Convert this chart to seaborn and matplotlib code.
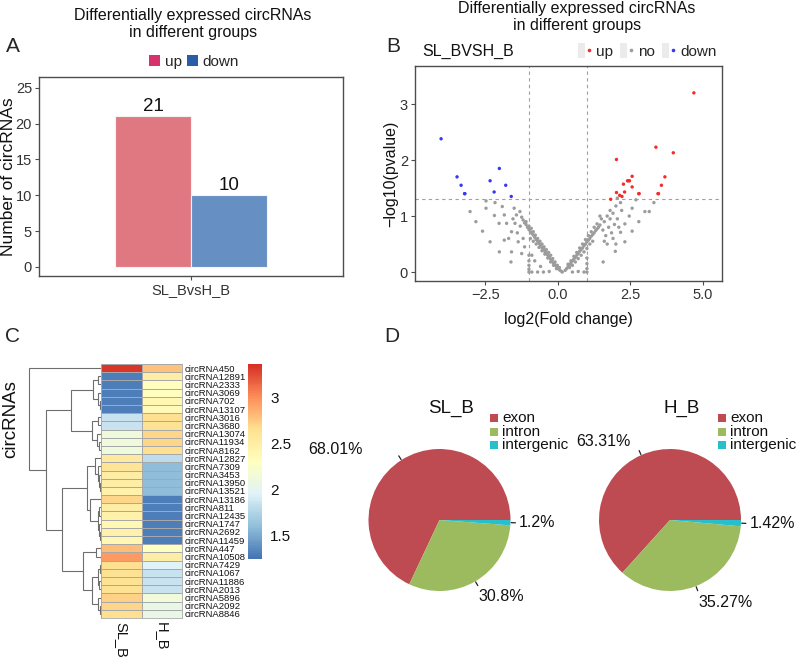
import numpy as np
import pandas as pd
import matplotlib
matplotlib.use("Agg")
import matplotlib.pyplot as plt
import seaborn as sns
from matplotlib.patches import Patch, Rectangle
from matplotlib.lines import Line2D
from matplotlib.legend_handler import HandlerTuple
from matplotlib.colors import LinearSegmentedColormap

# ---------------- data ----------------
# Panel A
bar_group = ["SL_BvsH_B", "SL_BvsH_B"]
bar_types = ["up", "down"]
bar_counts = [21, 10]

# Panel B (volcano)
up_fc = [4.69, 3.38, 3.98, 2.02, 2.56, 3.69, 2.43, 2.47, 2.26, 3.57, 2.56,
         2.02, 2.30, 2.79, 3.45, 2.13, 2.21, 1.82, 2.80, 3.47, 2.40]
up_logp = [3.20, 2.23, 2.13, 2.01, 1.71, 1.70, 1.63, 1.63, 1.57, 1.55, 1.52,
           1.42, 1.43, 1.40, 1.40, 1.37, 1.35, 1.30, 1.40, 1.40, 1.63]
down_fc = [-4.03, -2.02, -3.48, -2.34, -3.34, -1.80, -2.20, -3.21, -1.61, -3.22]
down_logp = [2.38, 1.85, 1.70, 1.63, 1.55, 1.55, 1.43, 1.40, 1.35, 1.40]
no_fc = [
    -1.25, -1.20, -1.15, -1.10, -1.05, -1.00, -0.95, -0.90, -0.85, -0.80, -0.75, -0.70,
    -0.65, -0.60, -0.55, -0.50, -0.45, -0.40, -0.35, -0.30, -0.25, -0.20, -0.15, -0.10,
    -0.05, 0.00, 0.05, 0.10, 0.15,
    -1.10, -1.00, -0.92, -0.85, -0.78, -0.70, -0.62, -0.55, -0.48, -0.40, -0.32, -0.25,
    -0.18, -0.10, -0.02, 0.05,
    -0.95, -0.85, -0.75, -0.65, -0.55, -0.45, -0.35, -0.25, -0.15, -0.05,
    0.25, 0.30, 0.35, 0.40, 0.45, 0.50, 0.55, 0.60, 0.65, 0.70, 0.75, 0.80, 0.85, 0.90,
    0.95, 1.00, 1.05, 1.10, 1.15, 1.20, 1.25, 1.30, 1.35, 1.40, 1.45,
    0.35, 0.45, 0.55, 0.65, 0.75, 0.85, 0.95, 1.05, 1.15, 1.25, 1.35,
    0.40, 0.50, 0.60, 0.70, 0.80, 0.90, 1.00, 1.10, 1.20,
    -0.90, -0.70, -0.50, -0.30, 0.50, 0.70, 0.90, -1.00, 1.00,
    -1.00, -1.00, -1.00, -1.00, 1.00, 1.00, 1.00,
    -2.48, -2.48, -3.03, -2.83, -2.60, -2.34, -2.02, -1.62, -2.19, -2.03, -2.17, -1.92,
    -1.85, -1.77, -1.85, -1.60, -1.48, -1.43, -1.51, -1.31, -1.60, -1.37, -1.25, -1.40,
    -1.30, -1.20, -1.15, -0.90, -0.80, -0.60, -1.70, -1.55,
    2.05, 2.16, 2.00, 2.69, 2.56, 3.31, 3.00, 3.15, 2.46, 2.79, 2.31, 2.56, 2.16, 2.31,
    1.98, 1.56, 1.60, 1.70, 1.80, 1.90, 1.75, 1.85, 1.95, 2.05, 1.65, 1.55, 1.90, 2.10,
    2.20, 1.70, 1.50, 1.45, 2.00, 1.80, 1.60]
no_logp = [
    0.98, 0.93, 0.88, 0.85, 0.80, 0.76, 0.72, 0.69, 0.66, 0.62, 0.58, 0.55,
    0.51, 0.48, 0.44, 0.41, 0.37, 0.34, 0.30, 0.27, 0.23, 0.20, 0.16, 0.13,
    0.10, 0.07, 0.04, 0.02, 0.00,
    0.90, 0.82, 0.78, 0.72, 0.66, 0.60, 0.55, 0.50, 0.45, 0.40, 0.35, 0.30,
    0.24, 0.18, 0.12, 0.08,
    0.60, 0.55, 0.50, 0.44, 0.38, 0.32, 0.25, 0.18, 0.12, 0.06,
    0.03, 0.06, 0.10, 0.13, 0.16, 0.20, 0.23, 0.26, 0.30, 0.33, 0.37, 0.40, 0.43, 0.47,
    0.50, 0.54, 0.57, 0.60, 0.64, 0.67, 0.70, 0.74, 0.77, 0.80, 0.84,
    0.14, 0.20, 0.28, 0.35, 0.43, 0.50, 0.58, 0.65, 0.72, 0.80, 0.86,
    0.08, 0.12, 0.18, 0.24, 0.30, 0.36, 0.42, 0.50, 0.55,
    0.00, 0.00, 0.00, 0.01, 0.00, 0.01, 0.00, 0.00, 0.00,
    0.05, 0.12, 0.20, 0.30, 0.06, 0.15, 0.25,
    1.27, 1.14, 1.08, 0.90, 0.73, 0.54, 0.36, 0.18, 1.01, 0.87, 1.24, 1.17,
    1.02, 0.87, 0.57, 0.72, 0.87, 1.02, 1.14, 1.08, 0.36, 0.54, 0.33, 0.70,
    0.82, 0.60, 0.45, 0.30, 0.20, 0.10, 0.60, 0.95,
    1.32, 1.24, 1.18, 1.29, 1.14, 1.24, 1.08, 1.08, 1.00, 0.90, 0.86, 0.73, 0.71, 0.54,
    0.37, 0.18, 0.90, 1.00, 0.95, 1.05, 0.80, 0.70, 0.85, 0.95, 0.65, 0.75, 0.60, 0.80,
    1.10, 0.50, 0.95, 1.00, 0.50, 1.10, 0.55]

# Panel C (heatmap)
heat_rows = ["circRNA450", "circRNA12891", "circRNA2333", "circRNA3069", "circRNA702",
             "circRNA13107", "circRNA3016", "circRNA3680", "circRNA13074", "circRNA11934",
             "circRNA8162", "circRNA12827", "circRNA7309", "circRNA3453", "circRNA13950",
             "circRNA13521", "circRNA13186", "circRNA811", "circRNA12435", "circRNA1747",
             "circRNA2692", "circRNA11459", "circRNA447", "circRNA10508", "circRNA7429",
             "circRNA1067", "circRNA11886", "circRNA2013", "circRNA5896", "circRNA2092",
             "circRNA8846"]
heat_cols = ["SL_B", "H_B"]
heat_sl = [3.32, 1.30, 1.30, 1.30, 1.30, 1.30, 1.85, 1.85, 2.12, 2.12, 2.12,
           2.55, 2.60, 2.50, 2.50, 2.45, 2.70, 2.50, 2.45, 2.40, 2.45, 2.40,
           2.80, 2.95, 2.65, 2.62, 2.62, 2.62, 2.72, 2.70, 2.66]
heat_h = [2.78, 2.50, 2.32, 2.32, 2.40, 2.36, 2.65, 2.62, 2.70, 2.70, 2.66,
          1.80, 1.60, 1.60, 1.60, 1.60, 1.30, 1.30, 1.30, 1.30, 1.30, 1.30,
          2.30, 2.50, 1.95, 1.85, 1.85, 1.85, 2.15, 2.05, 2.05]
# row dendrogram: [left, right, merge height]; leaves are row indices
dendro_tree = [0,
               [[[[1, 2, 2.5], [3, [4, 5, 1.0], 3.0], 7.3],
                 [[6, 7, 3.0], [8, [9, 10, 1.5], 3.5], 8.3], 29],
                [[[11, [12, [13, [14, 15, 0.8], 1.5], 2.5], 6],
                  [16, [[17, 18, 1.5], [19, [20, 21, 1.0], 2.0], 3.0], 11], 14],
                 [[22, 23, 5],
                  [[[24, 25, 1.0], [26, 27, 1.5], 3.0], [28, [29, 30, 1.0], 2.5], 9], 18],
                 38], 54],
               70]

# Panel D (pies)
pie_cats = ["exon", "intron", "intergenic"]
pie_sl = [68.01, 30.8, 1.2]
pie_h = [63.31, 35.27, 1.42]
pie_sl_labels = ["68.01%", "30.8%", "1.2%"]
pie_h_labels = ["63.31%", "35.27%", "1.42%"]

# ---------------- style ----------------
sns.set_style("white")
plt.rcParams["font.family"] = ["Liberation Sans", "DejaVu Sans"]
plt.rcParams["axes.unicode_minus"] = True

W, H = 797, 660
fig = plt.figure(figsize=(W / 100, H / 100), dpi=100)


def pax(x0, y0, x1, y1):
    return fig.add_axes([x0 / W, 1 - y1 / H, (x1 - x0) / W, (y1 - y0) / H])


def ftext(x, y, s, **kw):
    return fig.text(x / W, 1 - y / H, s, **kw)


frame_col = "#4D4D4D"
tick_col = "#333333"


def style_box(ax):
    for sp in ax.spines.values():
        sp.set_visible(True)
        sp.set_color(frame_col)
        sp.set_linewidth(1.0)
    ax.tick_params(axis="both", which="both", direction="out", length=3,
                   width=0.8, color=frame_col, labelcolor=tick_col, labelsize=10.5,
                   bottom=True, left=True, pad=2)


# ---------------- Panel A ----------------
axA = pax(39, 77, 343, 276)
dfA = pd.DataFrame({"group": bar_group, "type": bar_types, "count": bar_counts})
sns.barplot(data=dfA, x="group", y="count", hue="type", hue_order=["up", "down"],
            palette={"up": "#E07882", "down": "#6690C4"}, width=0.6, gap=0,
            saturation=1, edgecolor="#F4F4F4", linewidth=0.8, legend=False, ax=axA)
axA.set_xlim(-0.6, 0.6)
axA.set_ylim(-1.26, 26.5)
axA.set_yticks([0, 5, 10, 15, 20, 25])
style_box(axA)
for c in axA.containers:
    axA.bar_label(c, fontsize=13.5, padding=1, color="#111111")
axA.set_xlabel("")
axA.set_ylabel("Number of circRNAs", fontsize=12.5, color="#111111")
axA.yaxis.set_label_coords(-0.076, 0.5)
axA.legend(handles=[Patch(facecolor="#D6336C", edgecolor="none", label="up"),
                    Patch(facecolor="#2A5CAA", edgecolor="none", label="down")],
           ncol=2, loc="center", bbox_to_anchor=(0.51, 1.075), frameon=False,
           fontsize=11, handlelength=0.75, handleheight=0.75, handletextpad=0.3,
           columnspacing=0.3, borderpad=0)
ftext(193, 24, "Differentially expressed circRNAs\nin different groups",
      ha="center", va="center", fontsize=11.5, linespacing=1.15, color="#111111")
ftext(13, 47, "A", ha="center", va="center", fontsize=15)

# ---------------- Panel B ----------------
axB = pax(415, 66, 722, 281)
dfB = pd.DataFrame({
    "fc": no_fc + up_fc + down_fc,
    "logp": no_logp + up_logp + down_logp,
    "change": ["no"] * len(no_fc) + ["up"] * len(up_fc) + ["down"] * len(down_fc)})
sns.scatterplot(data=dfB, x="fc", y="logp", hue="change",
                palette={"up": "#F52A2A", "no": "#9C9C9C", "down": "#3838F0"},
                s=6, linewidth=0, legend=False, ax=axB, zorder=3)
for xv in (-1, 1):
    axB.axvline(xv, color="#A0A0A0", lw=0.8, ls=(0, (3, 3)), zorder=1)
axB.axhline(-np.log10(0.05), color="#A0A0A0", lw=0.8, ls=(0, (3, 3)), zorder=1)
axB.set_xlim(-4.93, 5.66)
axB.set_ylim(-0.16, 3.68)
axB.set_xticks([-2.5, 0, 2.5, 5.0])
axB.set_xticklabels(["\u22122.5", "0.0", "2.5", "5.0"])
axB.set_yticks([0, 1, 2, 3])
style_box(axB)
axB.set_xlabel("log2(Fold change)", fontsize=11.5, color="#111111")
axB.set_ylabel("\u2212log10(pvalue)", fontsize=11.5, color="#111111")
axB.yaxis.set_label_coords(-0.055, 0.5)
axB.xaxis.set_label_coords(0.5, -0.145)
ftext(577, 17, "Differentially expressed circRNAs\nin different groups",
      ha="center", va="center", fontsize=11.5, linespacing=1.15, color="#111111")
ftext(422, 51, "SL_BVSH_B", ha="left", va="center", fontsize=11.5, color="#111111")
ftext(393, 47, "B", ha="center", va="center", fontsize=15)
key_bg = "#EBEBEB"
leg_handles = [
    (Patch(facecolor=key_bg, edgecolor="none"),
     Line2D([], [], marker="o", ls="", color=c, markersize=2.6, markeredgewidth=0))
    for c in ("#F52A2A", "#9C9C9C", "#3838F0")]
axB.legend(leg_handles, ["up", "no", "down"], handler_map={tuple: HandlerTuple(ndivide=None)},
           ncol=3, loc="center", bbox_to_anchor=((647 - 415) / 307, 1 + (66 - 51) / 215),
           frameon=False, fontsize=11, handlelength=1.0, handleheight=1.1,
           handletextpad=0.2, columnspacing=0.45, borderpad=0)

# ---------------- Panel C ----------------
axDen = pax(27, 364, 101, 618)
axH = pax(101, 364, 182, 618)
cax = pax(248, 364, 262, 559)
dfC = pd.DataFrame({"SL_B": heat_sl, "H_B": heat_h}, index=heat_rows)[heat_cols]
rdylbu7 = ["#D73027", "#FC8D59", "#FEE090", "#FFFFBF", "#E0F3F8", "#91BFDB", "#4575B4"]
cmap = LinearSegmentedColormap.from_list("phm", rdylbu7[::-1], N=100)
sns.heatmap(dfC, ax=axH, cbar_ax=cax, cmap=cmap, vmin=1.24, vmax=3.36,
            linewidths=0.6, linecolor="#A8A8A8", xticklabels=True, yticklabels=True)
axH.yaxis.tick_right()
axH.set_yticks(np.arange(len(heat_rows)) + 0.5)
axH.set_yticklabels(heat_rows, rotation=0, fontsize=6.8, color="#111111")
axH.tick_params(axis="y", length=0, pad=2)
axH.set_xticklabels(heat_cols, rotation=270, fontsize=10.5, color="#111111")
axH.tick_params(axis="x", length=0, pad=3)
for lbl in axH.get_xticklabels():
    lbl.set_va("top")
    lbl.set_ha("center")
axH.set_xlabel("")
axH.set_ylabel("")
for sp in axH.spines.values():
    sp.set_visible(True)
    sp.set_color("#A8A8A8")
    sp.set_linewidth(0.6)
cb = axH.collections[0].colorbar
cb.outline.set_visible(False)
cb.set_ticks([1.5, 2, 2.5, 3])
cb.set_ticklabels(["1.5", "2", "2.5", "3"])
cax.tick_params(length=0, labelsize=11, pad=6, labelcolor="#111111")

# dendrogram


def draw_node(node):
    if isinstance(node, int):
        return node + 0.5, 0.0
    a, b, h = node
    pa, ha = draw_node(a)
    pb, hb = draw_node(b)
    axDen.plot([ha, h, h, hb], [pa, pa, pb, pb], color="#6E6E6E", lw=0.8,
               solid_joinstyle="miter")
    return (pa + pb) / 2, h


draw_node(dendro_tree)
axDen.set_ylim(len(heat_rows), 0)
axDen.set_xlim(72, 0)
axDen.axis("off")
ftext(11, 419, "circRNAs", rotation=90, ha="center", va="center", fontsize=13.5,
      color="#111111")
ftext(13, 337, "C", ha="center", va="center", fontsize=15)

# ---------------- Panel D ----------------
pie_colors = ["#BE4A52", "#9BBB5E", "#27BFCB"]
R = 71 / 75.0


def draw_pie(cx, cy, vals, labels, title, offsets, legx):
    ax = pax(cx - 75, cy - 75, cx + 75, cy + 75)
    ax.pie(vals, colors=pie_colors, startangle=0, counterclock=True, radius=R,
           wedgeprops=dict(linewidth=0))
    ax.set_xlim(-1, 1)
    ax.set_ylim(-1, 1)
    ax.set_aspect("equal")
    ax.axis("off")
    cum = np.cumsum([0] + list(vals))
    for i, lab in enumerate(labels):
        ang = np.deg2rad((cum[i] + cum[i + 1]) / 2 / 100 * 360)
        c, s = np.cos(ang), np.sin(ang)
        ax.plot([R * 1.01 * c, R * 1.07 * c], [R * 1.01 * s, R * 1.07 * s],
                color="#222222", lw=0.9, clip_on=False)
        dx, dy, ha = offsets[i]
        ax.annotate(lab, xy=(R * 1.07 * c, R * 1.07 * s), xytext=(dx, dy),
                    textcoords="offset pixels", ha=ha, va="center",
                    fontsize=11.5, color="#111111", annotation_clip=False)
    ftext(cx + 12, 408, title, ha="center", va="center", fontsize=13.5, color="#111111")
    for k, cat in enumerate(pie_cats):
        yy = 418 + k * 13.5
        fig.add_artist(Rectangle((legx / W, 1 - (yy + 4) / H), 8 / W, 8 / H,
                                 transform=fig.transFigure, facecolor=pie_colors[k],
                                 edgecolor="none"))
        ftext(legx + 12, yy, cat, ha="left", va="center", fontsize=11, color="#111111")


draw_pie(439.5, 520, pie_sl, pie_sl_labels, "SL_B",
         [(-36, 6, "right"), (1, -11, "left"), (3, 0, "left")], 490)
draw_pie(670, 520, pie_h, pie_h_labels, "H_B",
         [(-9, 9, "right"), (1, -12, "left"), (4, 0, "left")], 718)
ftext(392, 337, "D", ha="center", va="center", fontsize=15)

fig.savefig("out.png", dpi=100)
